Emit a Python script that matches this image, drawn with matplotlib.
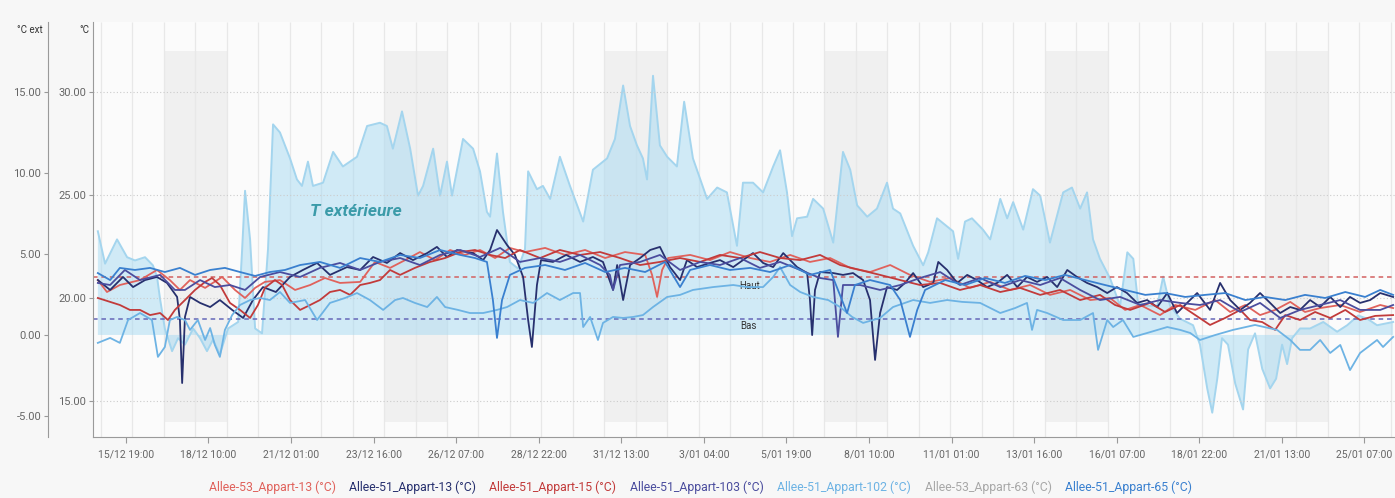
import numpy as np
import matplotlib
matplotlib.use("Agg")
import matplotlib.pyplot as plt
from matplotlib.patches import Rectangle
from matplotlib.ticker import FormatStrFormatter

plt.rcParams['font.family'] = ['Roboto', 'DejaVu Sans']

# time axis: days since 15/12 00:00
tick_labels = ['15/12 19:00', '18/12 10:00', '21/12 01:00', '23/12 16:00', '26/12 07:00',
               '28/12 22:00', '31/12 13:00', '3/01 04:00', '5/01 19:00', '8/01 10:00',
               '11/01 01:00', '13/01 16:00', '16/01 07:00', '18/01 22:00', '21/01 13:00',
               '25/01 07:00']
weekend_starts = [2, 9, 16, 23, 30, 37]   # saturdays 00:00
haut, bas = 21.0, 19.0

# outside temperature (right scale "°C ext")
ext_days = [-0.10, 0.13, 0.51, 0.83, 1.08, 1.40, 1.65, 1.78, 1.88, 2.03,
            2.26, 2.45, 2.67, 2.93, 3.15, 3.37, 3.56, 3.78, 4.04, 4.36,
            4.48, 4.58, 4.74, 4.90, 5.12, 5.31, 5.47, 5.69, 6.01, 6.23,
            6.39, 6.58, 6.74, 7.06, 7.38, 7.69, 8.14, 8.46, 8.87, 9.09,
            9.28, 9.57, 9.83, 10.08, 10.24, 10.56, 10.78, 11.00, 11.16, 11.51,
            11.83, 12.05, 12.27, 12.37, 12.59, 12.78, 13.00, 13.26, 13.48, 13.58,
            13.86, 14.05, 14.28, 14.59, 14.91, 15.33, 15.64, 16.09, 16.34, 16.60,
            16.82, 17.04, 17.23, 17.36, 17.55, 17.77, 18.00, 18.31, 18.54, 18.82,
            19.27, 19.59, 19.90, 20.22, 20.41, 20.73, 21.05, 21.37, 21.59, 21.81,
            21.97, 22.13, 22.45, 22.64, 22.96, 23.28, 23.59, 23.82, 24.04, 24.36,
            24.67, 24.99, 25.18, 25.41, 25.82, 26.14, 26.30, 26.58, 27.09, 27.25,
            27.47, 27.69, 28.04, 28.27, 28.59, 28.81, 29.00, 29.32, 29.63, 29.86,
            30.17, 30.59, 30.87, 31.13, 31.35, 31.54, 31.76, 32.08, 32.40, 32.63,
            32.82, 32.97, 33.26, 33.58, 33.77, 33.99, 34.31, 34.72, 34.94, 35.17,
            35.33, 35.49, 35.64, 35.83, 36.06, 36.31, 36.47, 36.69, 36.92, 37.17,
            37.36, 37.55, 37.71, 37.87, 38.12, 38.44, 38.86, 39.30, 39.62, 39.97,
            40.26, 40.57, 41.08]
ext_temp = [6.4, 4.4, 5.9, 4.8, 4.6, 4.8, 4.3, 3.6, 2.2, 0.4,
            -1.0, -0.2, -0.6, 0.4, -0.2, -1.0, -0.3, -1.2, 0.4, 0.8,
            5.0, 8.9, 5.9, 0.4, 0.1, 5.3, 13.0, 12.5, 10.9, 9.6,
            9.2, 10.7, 9.2, 9.4, 11.3, 10.4, 11.0, 12.9, 13.1, 12.9,
            11.5, 13.8, 11.5, 8.6, 9.2, 11.5, 8.6, 10.7, 8.6, 12.1,
            11.5, 10.1, 7.6, 7.3, 11.2, 7.6, 4.5, 4.1, 5.3, 10.1,
            9.0, 9.2, 8.4, 11.0, 9.2, 7.0, 10.2, 10.9, 12.1, 15.4,
            12.9, 11.7, 10.9, 9.6, 16.0, 11.7, 11.0, 10.4, 14.4, 10.9,
            8.4, 9.1, 8.8, 5.5, 9.4, 9.4, 8.8, 10.4, 11.4, 8.8,
            6.1, 7.2, 7.3, 8.4, 7.8, 5.7, 11.3, 10.2, 8.0, 7.3,
            7.8, 9.4, 7.8, 7.5, 5.5, 4.3, 5.1, 7.2, 6.4, 4.7,
            7.0, 7.2, 6.5, 5.9, 8.4, 7.2, 8.2, 6.5, 9.0, 8.6,
            5.7, 8.8, 9.1, 7.8, 8.8, 5.9, 4.7, 3.5, 1.8, 5.1,
            4.7, 2.0, 1.8, 1.8, 3.6, 1.8, 1.0, 0.6, -0.6, -3.3,
            -4.8, -2.7, -0.2, -0.6, -3.0, -4.6, -0.9, 0.1, -2.1, -3.3,
            -2.7, -0.6, -1.8, -0.2, 0.4, 0.4, 0.8, 0.2, 0.6, 1.2,
            1.0, 0.6, 0.8]

# room temperatures (left scale "°C")
a53_13_days = [-0.10, 0.19, 0.60, 1.24, 1.78, 2.19, 2.51, 2.83, 3.31, 3.85,
               4.26, 4.58, 4.90, 5.21, 5.69, 6.17, 6.65, 7.12, 7.60, 8.24,
               8.71, 9.19, 9.67, 10.14, 10.62, 11.10, 11.57, 12.05, 12.53, 13.00,
               13.48, 14.12, 14.75, 15.39, 16.03, 16.66, 17.30, 17.52, 17.68, 17.84,
               18.03, 18.73, 19.36, 20.00, 20.64, 21.27, 21.91, 22.54, 23.18, 23.82,
               24.45, 25.09, 25.72, 26.36, 27.00, 27.63, 28.27, 28.90, 29.54, 30.17,
               30.81, 31.45, 32.08, 32.56, 33.04, 33.67, 34.15, 34.79, 35.42, 35.90,
               36.38, 36.85, 37.33, 37.81, 38.28, 38.76, 39.40, 40.03, 40.67, 41.08]
a53_13_temp = [20.87, 20.29, 20.63, 20.87, 21.36, 20.87, 20.39, 20.87, 20.49, 21.02,
               20.39, 20.00, 20.49, 20.78, 20.87, 20.39, 20.63, 20.97, 20.73, 20.78,
               21.75, 21.46, 21.84, 22.23, 21.84, 22.33, 22.09, 22.33, 21.94, 22.43,
               22.23, 22.43, 22.09, 22.33, 21.94, 22.23, 22.09, 21.12, 20.05, 21.36,
               21.94, 22.09, 21.84, 22.23, 21.94, 21.75, 22.09, 21.75, 21.94, 21.46,
               21.26, 21.60, 21.12, 20.78, 20.97, 20.49, 20.78, 20.39, 20.63, 20.15,
               20.39, 19.90, 20.00, 19.42, 19.66, 19.17, 19.66, 19.42, 19.90, 19.32,
               19.66, 19.17, 19.42, 19.81, 19.32, 19.51, 19.66, 19.32, 19.66, 19.51]

a51_13_days = [-0.10, 0.29, 0.70, 1.02, 1.40, 1.78, 2.10, 2.42, 2.51, 2.58,
               2.67, 2.83, 3.15, 3.47, 3.78, 4.17, 4.52, 4.83, 5.15, 5.56,
               6.01, 6.42, 6.87, 7.28, 7.82, 8.24, 8.65, 9.09, 9.51, 9.92,
               10.37, 10.68, 11.00, 11.32, 11.83, 12.15, 12.37, 12.59, 12.91, 13.16,
               13.42, 13.58, 13.70, 13.86, 13.99, 14.37, 14.79, 15.23, 15.64, 15.96,
               16.28, 16.41, 16.60, 16.82, 17.14, 17.46, 17.77, 18.09, 18.41, 18.63,
               18.95, 19.36, 19.68, 20.10, 20.41, 20.73, 21.05, 21.37, 21.69, 22.13,
               22.45, 22.54, 22.61, 22.70, 22.86, 23.28, 23.59, 23.91, 24.23, 24.45,
               24.61, 24.77, 24.99, 25.31, 25.56, 25.82, 26.14, 26.46, 26.62, 26.90,
               27.22, 27.54, 27.85, 28.17, 28.49, 28.81, 29.13, 29.44, 29.76, 30.08,
               30.40, 30.72, 31.03, 31.35, 31.67, 31.99, 32.30, 32.62, 32.94, 33.26,
               33.58, 33.90, 34.21, 34.53, 34.85, 35.26, 35.58, 35.90, 36.22, 36.53,
               36.85, 37.17, 37.49, 37.81, 38.12, 38.44, 38.76, 39.08, 39.40, 39.71,
               40.03, 40.35, 40.67, 41.08]
a51_13_temp = [20.87, 20.39, 21.02, 20.53, 20.87, 21.02, 20.73, 20.05, 18.93, 15.87,
               19.08, 20.05, 19.76, 19.56, 19.90, 19.42, 19.03, 19.90, 20.53, 20.29,
               21.02, 21.36, 21.70, 21.12, 21.50, 21.36, 21.99, 21.70, 22.18, 21.84,
               22.18, 22.48, 21.99, 22.33, 22.18, 21.84, 22.33, 23.30, 22.57, 22.09,
               21.02, 18.93, 17.62, 20.63, 21.84, 21.75, 22.09, 21.75, 21.99, 21.75,
               20.39, 21.60, 19.90, 21.60, 21.94, 22.33, 22.48, 21.50, 20.87, 21.84,
               21.50, 21.70, 21.84, 21.50, 21.84, 22.18, 21.70, 21.50, 22.18, 21.50,
               21.21, 19.90, 18.20, 20.39, 21.26, 21.21, 21.12, 21.21, 20.87, 19.90,
               16.99, 19.27, 20.53, 20.39, 20.73, 21.21, 20.53, 20.73, 21.75, 21.36,
               20.73, 21.12, 20.87, 20.53, 20.73, 21.12, 20.53, 21.02, 20.78, 21.02,
               20.53, 21.36, 21.02, 20.73, 20.53, 20.24, 20.53, 20.24, 19.76, 19.90,
               19.56, 20.24, 19.27, 19.76, 20.24, 19.42, 20.73, 19.90, 19.42, 19.76,
               20.24, 19.76, 19.27, 19.56, 19.42, 19.90, 19.56, 20.05, 19.56, 20.05,
               19.76, 19.90, 20.24, 20.05]

a51_15_days = [-0.10, 0.29, 0.60, 0.92, 1.24, 1.56, 1.88, 2.13, 2.35, 2.67,
               2.99, 3.31, 3.53, 3.78, 4.10, 4.42, 4.74, 4.99, 5.21, 5.53,
               5.76, 6.01, 6.33, 6.65, 6.96, 7.28, 7.60, 7.92, 8.24, 8.55,
               8.87, 9.19, 9.51, 9.98, 10.46, 10.94, 11.42, 11.89, 12.37, 12.85,
               13.32, 13.96, 14.59, 15.23, 15.87, 16.50, 17.14, 17.77, 18.41, 19.05,
               19.68, 20.32, 20.95, 21.59, 22.23, 22.86, 23.50, 24.13, 24.77, 25.41,
               26.04, 26.68, 27.31, 27.95, 28.59, 29.22, 29.86, 30.49, 31.13, 31.76,
               32.24, 32.72, 33.35, 33.83, 34.31, 34.79, 35.26, 35.74, 36.22, 36.53,
               36.92, 37.33, 37.65, 38.12, 38.60, 39.08, 39.56, 40.03, 40.51, 41.08]
a51_15_temp = [20.00, 19.81, 19.66, 19.42, 19.42, 19.17, 19.27, 18.93, 19.42, 19.90,
               20.39, 20.78, 20.97, 20.63, 19.76, 19.42, 19.03, 19.66, 20.49, 20.87,
               20.63, 19.90, 19.42, 19.66, 19.90, 20.29, 20.39, 20.15, 20.63, 20.73,
               20.87, 21.36, 21.12, 21.46, 21.75, 21.94, 22.23, 22.33, 22.09, 21.94,
               22.33, 21.94, 22.33, 22.09, 22.23, 21.94, 21.60, 21.75, 21.94, 21.75,
               22.09, 21.94, 22.23, 21.94, 21.84, 22.09, 21.60, 21.36, 21.12, 20.87,
               20.63, 20.73, 20.39, 20.63, 20.29, 20.49, 20.15, 20.39, 19.90, 20.15,
               19.66, 19.42, 19.76, 19.32, 19.66, 19.17, 18.69, 19.03, 19.42, 18.93,
               18.83, 18.45, 19.17, 18.93, 19.32, 19.03, 19.42, 18.93, 19.13, 19.17]

a51_103_days = [-0.10, 0.29, 0.76, 1.24, 1.88, 2.35, 2.67, 3.15, 3.62, 4.10,
                4.58, 5.06, 5.69, 6.33, 6.96, 7.60, 8.24, 8.87, 9.51, 10.14,
                10.78, 11.42, 12.05, 12.69, 13.32, 13.96, 14.59, 15.23, 15.87, 16.18,
                16.28, 16.50, 17.14, 17.77, 18.41, 19.05, 19.68, 20.32, 20.95, 21.59,
                22.23, 22.86, 23.28, 23.43, 23.59, 24.13, 24.77, 25.41, 26.04, 26.68,
                27.31, 27.95, 28.59, 29.22, 29.86, 30.49, 31.13, 31.76, 32.40, 33.04,
                33.67, 34.31, 34.94, 35.58, 36.22, 36.85, 37.49, 38.12, 38.76, 39.40,
                40.03, 40.67, 41.08]
a51_103_temp = [20.73, 20.63, 21.36, 20.87, 21.12, 20.39, 20.39, 20.87, 20.53, 20.63,
                20.39, 21.02, 21.26, 21.02, 21.46, 21.70, 21.36, 21.75, 21.94, 21.60,
                22.09, 22.33, 21.99, 22.43, 21.75, 21.94, 21.75, 22.09, 21.60, 21.12,
                20.39, 21.60, 21.75, 22.09, 21.36, 21.75, 21.60, 21.94, 21.46, 21.75,
                21.36, 20.97, 20.87, 18.11, 20.63, 20.63, 20.39, 20.63, 20.97, 21.26,
                20.63, 20.97, 20.53, 20.87, 20.63, 20.97, 20.39, 19.90, 20.05, 19.66,
                19.90, 19.76, 19.66, 19.90, 19.32, 19.76, 19.03, 19.42, 19.66, 19.90,
                19.42, 19.42, 19.66]

a51_102_days = [-0.10, 0.29, 0.60, 0.86, 1.24, 1.62, 1.81, 2.03, 2.19, 2.42,
                2.67, 2.83, 3.08, 3.31, 3.47, 3.62, 3.78, 3.94, 4.17, 4.42,
                4.74, 5.06, 5.37, 5.69, 6.01, 6.49, 6.87, 7.28, 7.76, 8.14,
                8.55, 8.97, 9.35, 9.60, 9.98, 10.37, 10.68, 10.94, 11.35, 11.73,
                12.15, 12.59, 12.91, 13.32, 13.74, 14.18, 14.59, 15.01, 15.23, 15.33,
                15.55, 15.80, 15.96, 16.28, 16.60, 16.92, 17.23, 17.55, 18.00, 18.41,
                18.82, 19.46, 20.10, 20.54, 21.05, 21.37, 21.59, 21.91, 22.23, 22.64,
                23.12, 23.50, 23.88, 24.23, 24.77, 25.18, 25.82, 26.36, 26.90, 27.38,
                27.95, 28.59, 29.06, 29.44, 29.60, 29.76, 30.08, 30.59, 31.13, 31.54,
                31.70, 31.99, 32.18, 32.49, 32.82, 33.26, 33.90, 34.31, 34.63, 34.94,
                35.42, 35.99, 36.69, 37.39, 37.81, 38.12, 38.44, 38.76, 39.08, 39.40,
                39.71, 40.03, 40.57, 40.76, 41.08]
a51_102_temp = [17.82, 18.06, 17.82, 18.93, 19.27, 18.93, 17.14, 17.62, 18.93, 19.08,
                18.93, 18.45, 18.93, 17.96, 18.54, 17.72, 17.14, 18.45, 19.17, 19.66,
                19.90, 20.00, 19.90, 20.29, 19.76, 19.90, 18.93, 19.76, 20.00, 20.24,
                19.90, 19.42, 19.90, 20.00, 19.76, 19.56, 20.05, 19.56, 19.42, 19.27,
                19.27, 19.42, 19.56, 19.90, 19.76, 20.24, 19.90, 20.24, 20.24, 18.59,
                19.08, 17.96, 18.79, 19.08, 19.03, 19.08, 19.17, 19.56, 20.05, 20.15,
                20.39, 20.53, 20.63, 20.53, 20.53, 21.02, 21.50, 20.63, 20.29, 20.05,
                19.90, 19.56, 19.08, 18.79, 19.03, 19.56, 19.90, 19.76, 19.90, 19.81,
                19.76, 19.27, 19.51, 19.76, 18.45, 19.42, 19.27, 18.93, 18.93, 19.27,
                17.48, 18.93, 18.59, 18.93, 18.11, 18.30, 18.59, 18.45, 18.30, 17.96,
                18.20, 18.45, 18.69, 18.45, 17.96, 17.48, 17.48, 17.96, 17.33, 17.72,
                16.50, 17.33, 17.96, 17.62, 18.11]

a53_63_days = []   # series present in legend only
a53_63_temp = []

a51_65_days = [-0.10, 0.29, 0.60, 1.08, 1.56, 2.03, 2.51, 2.99, 3.47, 3.94,
               4.42, 4.90, 5.37, 5.85, 6.33, 6.96, 7.60, 8.24, 8.87, 9.51,
               10.14, 10.78, 11.42, 11.89, 12.27, 12.46, 12.59, 12.75, 13.00, 13.48,
               14.12, 14.75, 15.39, 16.03, 16.66, 17.30, 17.93, 18.41, 18.73, 19.36,
               20.00, 20.64, 21.27, 21.91, 22.54, 23.18, 23.72, 23.97, 24.45, 25.09,
               25.41, 25.72, 25.95, 26.20, 26.84, 27.47, 28.11, 28.74, 29.38, 30.02,
               30.65, 31.29, 31.92, 32.56, 33.20, 33.83, 34.47, 35.10, 35.74, 36.38,
               37.01, 37.65, 38.28, 38.92, 39.56, 40.19, 40.67, 41.08]
a51_65_temp = [21.21, 20.87, 21.46, 21.36, 21.46, 21.26, 21.46, 21.12, 21.36, 21.46,
               21.26, 21.07, 21.26, 21.36, 21.60, 21.75, 21.46, 21.94, 21.75, 22.09,
               21.94, 22.33, 22.09, 21.94, 21.75, 19.90, 18.06, 19.90, 21.12, 21.46,
               21.60, 21.36, 21.70, 21.26, 21.46, 21.26, 21.75, 20.53, 21.36, 21.60,
               21.36, 21.46, 21.26, 21.60, 21.12, 21.36, 19.27, 20.63, 20.87, 20.63,
               19.90, 18.11, 19.42, 20.39, 20.87, 20.63, 20.97, 20.73, 21.07, 20.87,
               21.12, 20.87, 20.63, 20.39, 20.15, 20.24, 20.05, 20.15, 20.24, 19.90,
               20.05, 19.90, 20.15, 20.00, 20.29, 20.05, 20.39, 20.15]

series = [
    ('Allee-53_Appart-13 (°C)', a53_13_days, a53_13_temp, '#e0625c'),
    ('Allee-51_Appart-13 (°C)', a51_13_days, a51_13_temp, '#27306e'),
    ('Allee-51_Appart-15 (°C)', a51_15_days, a51_15_temp, '#c23b3b'),
    ('Allee-51_Appart-103 (°C)', a51_103_days, a51_103_temp, '#4b4d9e'),
    ('Allee-51_Appart-102 (°C)', a51_102_days, a51_102_temp, '#6db3e4'),
    ('Allee-53_Appart-63 (°C)', a53_63_days, a53_63_temp, '#a8a8a8'),
    ('Allee-51_Appart-65 (°C)', a51_65_days, a51_65_temp, '#3a80cf'),
]

W, H = 1395, 498
fig = plt.figure(figsize=(W / 100, H / 100), dpi=100, facecolor='#f7f7f7')
ax = fig.add_axes([93 / W, 1 - 437 / H, 1 - 93 / W, 415 / H])
ax_ext = ax.twinx()

# ext axis sits below, with the background; room temps drawn on top
ax.set_zorder(2)
ax.patch.set_visible(False)
ax_ext.set_zorder(1)
ax_ext.patch.set_visible(True)
ax_ext.patch.set_facecolor('#fbfbfb')

ax.set_xlim(-0.254, 41.14)
ax.set_ylim(13.25, 33.4)
ax_ext.set_ylim(-6.3, 19.32)

# weekends
for s in weekend_starts:
    ax_ext.add_patch(Rectangle((s, 14), 2, 18, transform=ax.transData,
                               facecolor='#f0f0f0', edgecolor='none', zorder=0))
# day lines
ax_ext.vlines(np.arange(0, 42), 0, 1, transform=ax_ext.get_xaxis_transform(),
              colors='#e8e8e8', lw=0.9, zorder=0.5)

# outside temperature area
ax_ext.fill_between(ext_days, 0, ext_temp, facecolor='#a6daf2', alpha=0.5, lw=0, zorder=1)
ax_ext.plot(ext_days, ext_temp, color='#a4d5ee', lw=1.4, zorder=2)
ax_ext.text(8.1, 7.6, 'T extérieure', color='#3b9ba9', fontsize=12.5, fontweight='bold',
            fontstyle='italic', ha='center', va='center', zorder=3)

# comfort limits
ax.axhline(haut, color='#d36060', lw=1.1, dashes=(3, 2.5), zorder=2)
ax.axhline(bas, color='#6567b8', lw=1.1, dashes=(3, 2.5), zorder=2)
ax.text(20.62, 20.6, 'Haut', fontsize=7, color='#333333', ha='center', va='center')
ax.text(20.57, 18.66, 'Bas', fontsize=7, color='#333333', ha='center', va='center')

handles = []
for name, d, t, c in series:
    ln, = ax.plot(d, t, color=c, lw=1.3, label=name, zorder=3)
    handles.append(ln)

# axes styling
ax.yaxis.grid(True, ls=(0, (1, 2)), color='#cccccc', lw=0.8)
ax.set_yticks([15, 20, 25, 30])
ax.yaxis.set_major_formatter(FormatStrFormatter('%.2f'))
ax_ext.set_yticks([-5, 0, 5, 10, 15])
ax_ext.yaxis.set_major_formatter(FormatStrFormatter('%.2f'))
ax_ext.yaxis.set_ticks_position('left')
ax_ext.spines['left'].set_position(('outward', 32.4))
ax_ext.spines['left'].set_visible(True)
for a in (ax, ax_ext):
    a.spines['top'].set_visible(False)
    a.spines['right'].set_visible(False)
    a.tick_params(axis='y', length=3, color='#999999', labelsize=8, labelcolor='#666666', pad=2)
ax_ext.spines['bottom'].set_visible(False)
ax.spines['left'].set_color('#9a9a9a')
ax.spines['bottom'].set_color('#9a9a9a')
ax_ext.spines['left'].set_color('#9a9a9a')

tick_pos = [19 / 24 + 63 / 24 * k for k in range(len(tick_labels))]
ax.set_xticks(tick_pos)
ax.set_xticklabels(tick_labels)
ax.tick_params(axis='x', length=4, color='#999999', labelsize=7.5, labelcolor='#666666', pad=5)

fig.text(43 / W, 1 - 30 / H, '°C ext', ha='right', va='center', fontsize=7, color='#333333')
fig.text(89 / W, 1 - 30 / H, '°C', ha='right', va='center', fontsize=7, color='#333333')

leg = fig.legend(handles, [s[0] for s in series], loc='center', bbox_to_anchor=(0.502, 0.022),
                 ncol=7, frameon=False, handlelength=0, handletextpad=0,
                 columnspacing=1.1, fontsize=8.8)
for txt, s in zip(leg.get_texts(), series):
    txt.set_color(s[3])
for h in leg.legend_handles:
    h.set_visible(False)

fig.savefig('out.png', dpi=100, facecolor=fig.get_facecolor())
